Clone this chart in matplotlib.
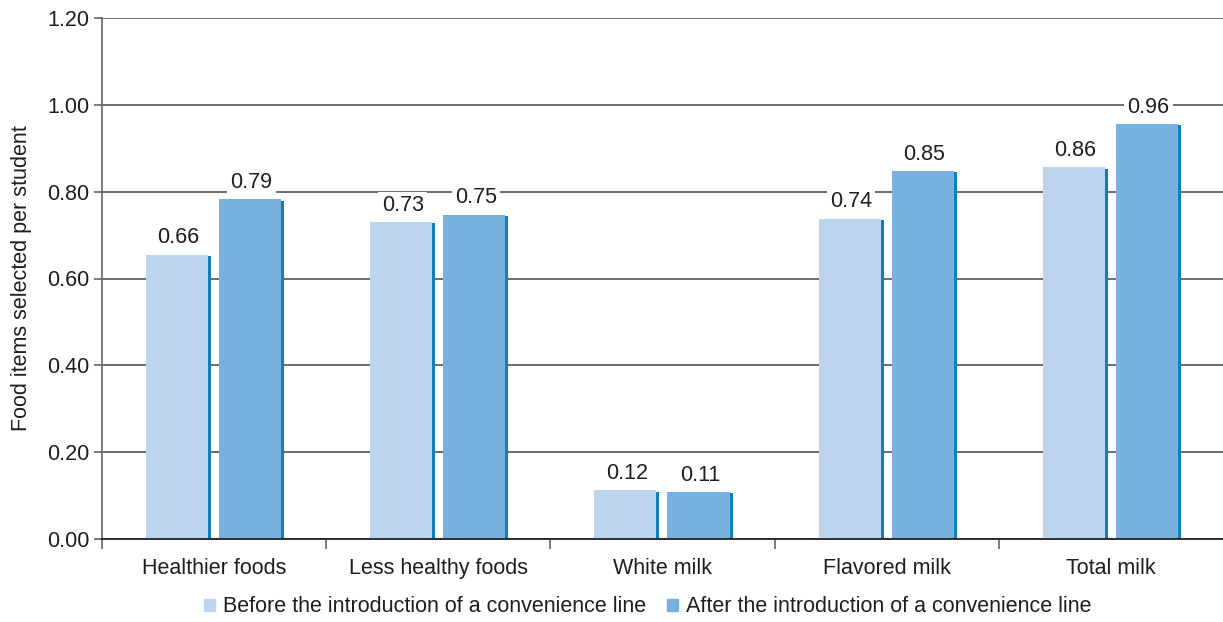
import numpy as np
import matplotlib.pyplot as plt
from matplotlib.patches import Patch

plt.rcParams['font.family'] = ['Liberation Sans', 'DejaVu Sans']

categories = ['Healthier foods', 'Less healthy foods', 'White milk', 'Flavored milk', 'Total milk']
before = [0.66, 0.73, 0.12, 0.74, 0.86]
after = [0.79, 0.75, 0.11, 0.85, 0.96]
before_heights = [0.655, 0.730, 0.112, 0.738, 0.856]
after_heights = [0.782, 0.747, 0.108, 0.848, 0.956]
series_names = ['Before the introduction of a convenience line',
                'After the introduction of a convenience line']

c_before = '#bcd5ec'
c_after = '#79b1de'
c_edge = '#0b80c6'
txt = '#1e1e1e'
fs = 15.5

fig = plt.figure(figsize=(12.23, 6.22), dpi=100)
ax = fig.add_axes([102 / 1223, 1 - 539 / 622, 1121 / 1223, 521 / 622])

x = np.arange(len(categories))
bw = 0.277
sw = 0.0134
off1 = -0.304
off2 = 0.022

for hs, off, col in [(before_heights, off1, c_before), (after_heights, off2, c_after)]:
    hs = np.array(hs)
    ax.bar(x + off + bw, hs - 0.003, sw, align='edge', color=c_edge, zorder=3)
    ax.bar(x + off, hs, bw, align='edge', color=col, zorder=3)

for vals, hs, off in [(before, before_heights, off1), (after, after_heights, off2)]:
    for xi, v, h in zip(x, vals, hs):
        ax.annotate('%.2f' % v, (xi + off + (bw + sw) / 2, h), xytext=(0, 4.5),
                    textcoords='offset points', ha='center', va='bottom',
                    fontsize=fs, color=txt, zorder=4,
                    bbox=dict(boxstyle='square,pad=0.15', fc='white', ec='none'))

ax.set_xlim(-0.5, 4.5)
ax.set_ylim(0, 1.2)
ax.set_yticks(np.arange(0, 1.21, 0.2))
ax.set_yticklabels(['%.2f' % t for t in np.arange(0, 1.21, 0.2)])
ax.yaxis.grid(True, color='#444444', linewidth=1.1, zorder=0)
ax.set_axisbelow(True)

ax.set_xticks(x)
ax.set_xticklabels(categories)
ax.set_xticks([-0.5, 0.5, 1.5, 2.5, 3.5], minor=True)
ax.tick_params(axis='x', which='major', length=0, pad=14, labelsize=fs, labelcolor=txt)
ax.tick_params(axis='x', which='minor', length=7, width=1.2, color='#666666')
ax.tick_params(axis='y', length=6, width=1.1, color='#555555', pad=3,
               labelsize=fs, labelcolor=txt)

for s in ['top', 'right']:
    ax.spines[s].set_visible(False)
ax.spines['left'].set_color('#666666')
ax.spines['left'].set_linewidth(1.2)
ax.spines['bottom'].set_color('#222222')
ax.spines['bottom'].set_linewidth(1.3)
ax.spines['bottom'].set_zorder(5)

ax.set_ylabel('Food items selected per student', fontsize=fs, color=txt)
ax.yaxis.set_label_coords(-0.062, 0.5)

handles = [Patch(color=c_before), Patch(color=c_after)]
fig.legend(handles, series_names, loc='center', bbox_to_anchor=(648 / 1223, 1 - 607 / 622),
           ncol=2, frameon=False, fontsize=fs, handlelength=0.5, handleheight=0.5,
           handletextpad=0.4, columnspacing=0.95, labelcolor=txt)

fig.savefig('out.png', dpi=100)
